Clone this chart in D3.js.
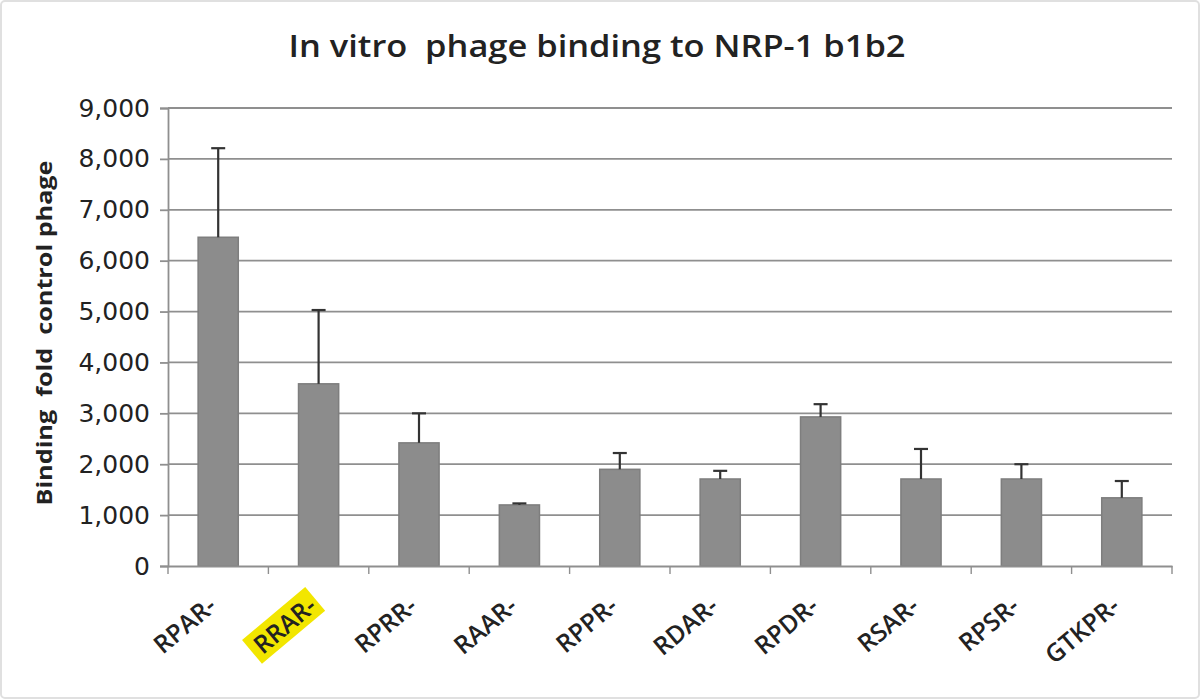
<!DOCTYPE html>
<html><head><meta charset="utf-8">
<script src="https://cdn.jsdelivr.net/npm/d3@7"></script>
<style>body{margin:0;background:#fff}</style>
</head><body>
<svg id="c" width="1200" height="699"></svg>
<script>
const categories = ["RPAR-","RRAR-","RPRR-","RAAR-","RPPR-","RDAR-","RPDR-","RSAR-","RPSR-","GTKPR-"];
const values = [6460, 3580, 2420, 1200, 1900, 1710, 2930, 1710, 1710, 1340];
const errors = [1750, 1450, 580, 30, 320, 160, 250, 590, 290, 330];
const yTicks = [0,1000,2000,3000,4000,5000,6000,7000,8000,9000];
const highlighted = ["RRAR-"];

const svg = d3.select("#c");
const m = {l:168, r:1172, t:108, b:566};
svg.append("rect").attr("x",1).attr("y",1).attr("width",1198).attr("height",697)
  .attr("fill","#fff").attr("stroke","#e0e0e0").attr("stroke-width",2).attr("rx",4);

const x = d3.scaleBand().domain(categories).range([m.l, m.r]).paddingInner(0.6).paddingOuter(0.3);
const y = d3.scaleLinear().domain([0,9000]).range([m.b, m.t]);

// gridlines
svg.append("g").selectAll("line").data(yTicks.slice(1)).join("line")
  .attr("x1",m.l).attr("x2",m.r).attr("y1",d=>y(d)).attr("y2",d=>y(d))
  .attr("stroke","#8f8f8f").attr("stroke-width",1.8);

// bars
svg.append("g").selectAll("rect").data(categories).join("rect")
  .attr("x",d=>x(d)).attr("width",x.bandwidth())
  .attr("y",(d,i)=>y(values[i])).attr("height",(d,i)=>y(0)-y(values[i]))
  .attr("fill","#8c8c8c").attr("stroke","#7e7e7e").attr("stroke-width",1.5);

// error bars
const eg = svg.append("g").attr("stroke","#333").attr("stroke-width",2.2);
categories.forEach((c,i)=>{
  const cx = x(c)+x.bandwidth()/2;
  eg.append("line").attr("x1",cx).attr("x2",cx).attr("y1",y(values[i])).attr("y2",y(values[i]+errors[i]));
  eg.append("line").attr("x1",cx-7).attr("x2",cx+7).attr("y1",y(values[i]+errors[i])).attr("y2",y(values[i]+errors[i]));
});

// y axis
const ya = svg.append("g").attr("transform",`translate(${m.l},0)`)
  .call(d3.axisLeft(y).tickValues(yTicks).tickSize(8).tickPadding(10).tickFormat(d3.format(",")));
ya.select(".domain").attr("stroke","#8f8f8f").attr("stroke-width",1.8);
ya.selectAll(".tick line").attr("stroke","#8f8f8f").attr("stroke-width",1.8);
ya.selectAll("text").attr("font-family","DejaVu Sans, sans-serif").attr("font-size",25).attr("fill","#222");

// x axis
const xa = svg.append("g").attr("transform",`translate(0,${m.b})`)
  .call(d3.axisBottom(x).tickSize(0).tickFormat(""));
xa.select(".domain").attr("stroke","#8f8f8f").attr("stroke-width",1.8);
const step = x.step();
svg.append("g").selectAll("line").data(d3.range(categories.length+1)).join("line")
  .attr("x1",d=>m.l+d*step).attr("x2",d=>m.l+d*step).attr("y1",m.b).attr("y2",m.b+8)
  .attr("stroke","#8f8f8f").attr("stroke-width",1.4);

// x labels
const lg = svg.append("g");
categories.forEach(c=>{
  const cx = x(c)+x.bandwidth()/2 - 6;
  const g = lg.append("g").attr("transform",`translate(${cx},${m.b+36}) rotate(-40)`);
  const t = g.append("text").attr("text-anchor","end").attr("dy","0.35em")
    .attr("font-family","Open Sans, sans-serif").attr("font-weight",600).attr("font-size",25).attr("fill","#222").text(c);
  if (highlighted.includes(c)) {
    const bb = t.node().getBBox();
    g.insert("rect","text").attr("x",bb.x-6).attr("y",bb.y+2).attr("width",bb.width+10).attr("height",bb.height-3)
      .attr("fill","#f2e600");
  }
});

// title
svg.append("text").attr("x",597).attr("y",57).attr("text-anchor","middle")
  .attr("font-family","Open Sans, sans-serif").attr("font-weight",600).attr("font-size",31)
  .attr("textLength",617).attr("lengthAdjust","spacingAndGlyphs")
  .attr("fill","#222").attr("xml:space","preserve").text("In vitro  phage binding to NRP-1 b1b2");

// y label
svg.append("text").attr("transform","translate(52,333) rotate(-90)").attr("text-anchor","middle")
  .attr("font-family","Open Sans, sans-serif").attr("font-weight",700).attr("font-size",22)
  .attr("textLength",345).attr("lengthAdjust","spacingAndGlyphs")
  .attr("fill","#222").attr("xml:space","preserve").text("Binding  fold  control phage");
</script>
</body></html>
